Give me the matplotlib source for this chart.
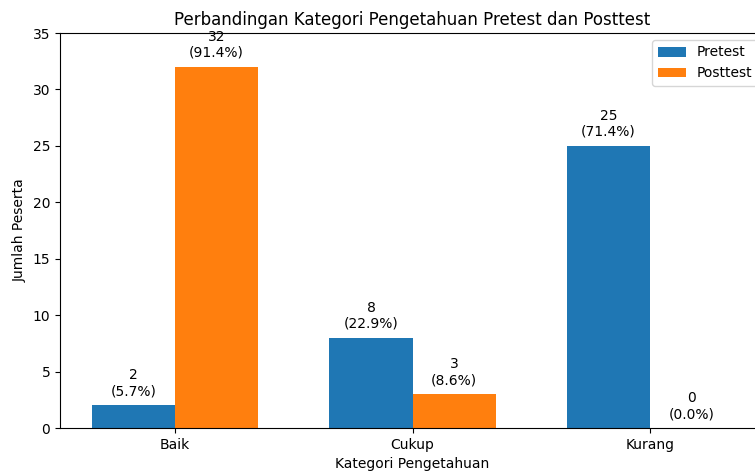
import matplotlib
matplotlib.use("Agg")
import matplotlib.pyplot as plt
import numpy as np

categories = ["Baik", "Cukup", "Kurang"]
pretest = [2, 8, 25]
posttest = [32, 3, 0]
total = 35

fig = plt.figure(figsize=(7.55, 4.71), dpi=100)
ax = fig.add_axes([60/755, 43/471, 705/755, 395/471])
x = np.arange(len(categories))
w = 0.35
b1 = ax.bar(x - w/2, pretest, w, label="Pretest", color="#1f77b4")
b2 = ax.bar(x + w/2, posttest, w, label="Posttest", color="#ff7f0e")
for bars, vals in ((b1, pretest), (b2, posttest)):
    for bar, v in zip(bars, vals):
        ax.annotate(f"{v}\n({v/total*100:.1f}%)",
                    (bar.get_x() + bar.get_width()/2, bar.get_height()),
                    xytext=(0, 5), textcoords="offset points",
                    ha="center", va="bottom", fontsize=10)
ax.set_xticks(x)
ax.set_xticklabels(categories)
ax.set_ylim(0, 35)
ax.set_xlabel("Kategori Pengetahuan")
ax.set_ylabel("Jumlah Peserta")
ax.set_title("Perbandingan Kategori Pengetahuan Pretest dan Posttest")
ax.legend(loc="upper right")
fig.savefig("out.png", dpi=100)
